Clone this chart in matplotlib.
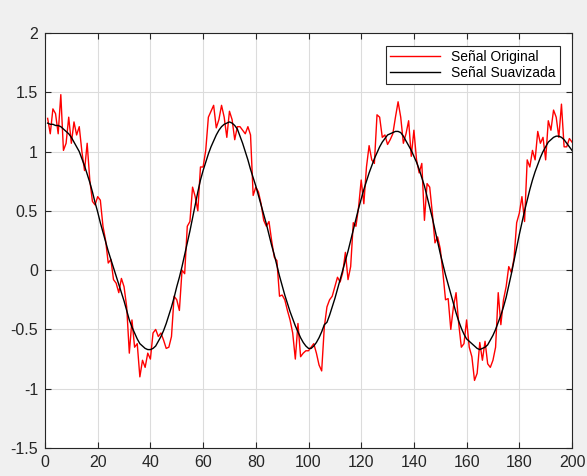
import numpy as np
import matplotlib
matplotlib.use('Agg')
import matplotlib.pyplot as plt

# Noisy signal (samples 1..200).
senal_original = [
    1.28, 1.15, 1.36, 1.32, 1.15, 1.48, 1.01, 1.07, 1.29, 1.07,
    1.25, 1.14, 1.21, 1.00, 0.84, 1.07, 0.76, 0.58, 0.55, 0.62,
    0.59, 0.37, 0.25, 0.06, 0.09, -0.08, -0.11, -0.19, -0.07, -0.14,
    -0.31, -0.70, -0.42, -0.65, -0.62, -0.90, -0.76, -0.82, -0.70, -0.75,
    -0.53, -0.50, -0.56, -0.53, -0.59, -0.66, -0.65, -0.56, -0.22, -0.25,
    -0.34, 0.00, -0.03, 0.37, 0.41, 0.70, 0.62, 0.50, 0.87, 0.87,
    1.01, 1.29, 1.34, 1.39, 1.20, 1.27, 1.39, 1.29, 1.12, 1.34,
    1.27, 1.10, 1.21, 1.21, 1.18, 1.15, 1.21, 1.14, 0.63, 0.70,
    0.66, 0.56, 0.42, 0.37, 0.41, 0.25, 0.11, 0.08, -0.22, -0.21,
    -0.25, -0.34, -0.42, -0.53, -0.75, -0.45, -0.73, -0.70, -0.68, -0.68,
    -0.65, -0.62, -0.70, -0.80, -0.85, -0.48, -0.31, -0.25, -0.22, -0.14,
    -0.06, -0.10, -0.02, 0.15, -0.08, 0.03, 0.40, 0.37, 0.53, 0.76,
    0.56, 0.87, 1.05, 0.93, 0.90, 1.31, 1.29, 1.12, 1.14, 1.06,
    1.10, 1.15, 1.29, 1.42, 1.29, 1.07, 1.15, 1.26, 0.96, 1.18,
    0.93, 0.82, 0.90, 0.42, 0.73, 0.70, 0.48, 0.23, 0.28, 0.18,
    -0.02, -0.25, -0.24, -0.50, -0.31, -0.19, -0.45, -0.65, -0.62, -0.42,
    -0.65, -0.73, -0.93, -0.87, -0.61, -0.76, -0.60, -0.79, -0.82, -0.76,
    -0.65, -0.19, -0.46, -0.25, -0.14, 0.03, -0.02, 0.10, 0.40, 0.48,
    0.62, 0.41, 0.93, 0.87, 1.01, 0.93, 1.17, 1.07, 1.12, 0.93,
    1.26, 1.18, 1.35, 1.29, 1.12, 1.40, 1.04, 1.04, 1.11, 1.08,
]

# Smoothed signal.
senal_suavizada = [
    1.24, 1.23, 1.23, 1.22, 1.22, 1.21, 1.19, 1.17, 1.15, 1.12,
    1.08, 1.04, 1.00, 0.94, 0.88, 0.81, 0.74, 0.66, 0.57, 0.49,
    0.40, 0.32, 0.24, 0.16, 0.09, 0.02, -0.05, -0.12, -0.19, -0.26,
    -0.34, -0.42, -0.48, -0.53, -0.58, -0.62, -0.64, -0.66, -0.67, -0.67,
    -0.66, -0.64, -0.60, -0.56, -0.51, -0.45, -0.38, -0.31, -0.23, -0.14,
    -0.06, 0.03, 0.13, 0.23, 0.33, 0.44, 0.55, 0.66, 0.76, 0.84,
    0.91, 0.98, 1.04, 1.09, 1.14, 1.18, 1.21, 1.23, 1.24, 1.25,
    1.24, 1.22, 1.19, 1.13, 1.07, 1.00, 0.93, 0.85, 0.78, 0.71,
    0.63, 0.55, 0.47, 0.39, 0.30, 0.21, 0.13, 0.04, -0.05, -0.13,
    -0.21, -0.28, -0.35, -0.41, -0.47, -0.52, -0.57, -0.61, -0.64, -0.66,
    -0.66, -0.64, -0.61, -0.57, -0.52, -0.46, -0.44, -0.38, -0.31, -0.24,
    -0.16, -0.08, 0.00, 0.08, 0.16, 0.25, 0.34, 0.43, 0.52, 0.60,
    0.68, 0.75, 0.82, 0.88, 0.94, 0.99, 1.04, 1.08, 1.11, 1.14,
    1.15, 1.16, 1.17, 1.17, 1.16, 1.13, 1.09, 1.05, 1.01, 0.96,
    0.91, 0.85, 0.78, 0.71, 0.62, 0.53, 0.44, 0.34, 0.24, 0.14,
    0.05, -0.04, -0.12, -0.20, -0.28, -0.36, -0.43, -0.49, -0.54, -0.58,
    -0.60, -0.62, -0.64, -0.66, -0.67, -0.66, -0.65, -0.63, -0.59, -0.55,
    -0.50, -0.44, -0.38, -0.31, -0.23, -0.13, -0.03, 0.08, 0.19, 0.30,
    0.40, 0.50, 0.59, 0.68, 0.76, 0.83, 0.89, 0.95, 1.00, 1.04,
    1.08, 1.10, 1.12, 1.13, 1.13, 1.12, 1.10, 1.07, 1.04, 1.01,
]

muestras = np.arange(1, len(senal_original) + 1)
x_ticks = list(range(0, 201, 20))
y_ticks = [-1.5, -1, -0.5, 0, 0.5, 1, 1.5, 2]
y_labels = ['-1.5', '-1', '-0.5', '0', '0.5', '1', '1.5', '2']

plt.rcParams['font.family'] = ['Liberation Sans', 'DejaVu Sans']

fig = plt.figure(figsize=(5.87, 4.76), dpi=100, facecolor='#f0f0f0')
ax = fig.add_axes([45 / 587, 28 / 476, 527 / 587, 415 / 476])
ax.set_facecolor('white')

ax.plot(muestras, senal_original, color='red', lw=1.0, label='Señal Original')
ax.plot(muestras, senal_suavizada, color='black', lw=1.0, label='Señal Suavizada')

ax.set_xlim(0, 200)
ax.set_ylim(-1.5, 2)
ax.set_xticks(x_ticks)
ax.set_yticks(y_ticks)
ax.set_yticklabels(y_labels)
ax.grid(True, color='#dcdcdc', lw=0.8)
ax.set_axisbelow(True)
ax.tick_params(direction='in', top=True, right=True, length=4, width=0.8,
               colors='#262626', labelsize=11.5, pad=5)
for s in ax.spines.values():
    s.set_color('#262626')
    s.set_linewidth(0.8)

leg = ax.legend(loc='upper right', fancybox=False, framealpha=1,
                edgecolor='#262626', fontsize=10, handlelength=3.6,
                borderaxespad=0.9, borderpad=0.3, labelspacing=0.15)
leg.get_frame().set_linewidth(0.8)

fig.savefig('out.png', dpi=100, facecolor=fig.get_facecolor())
